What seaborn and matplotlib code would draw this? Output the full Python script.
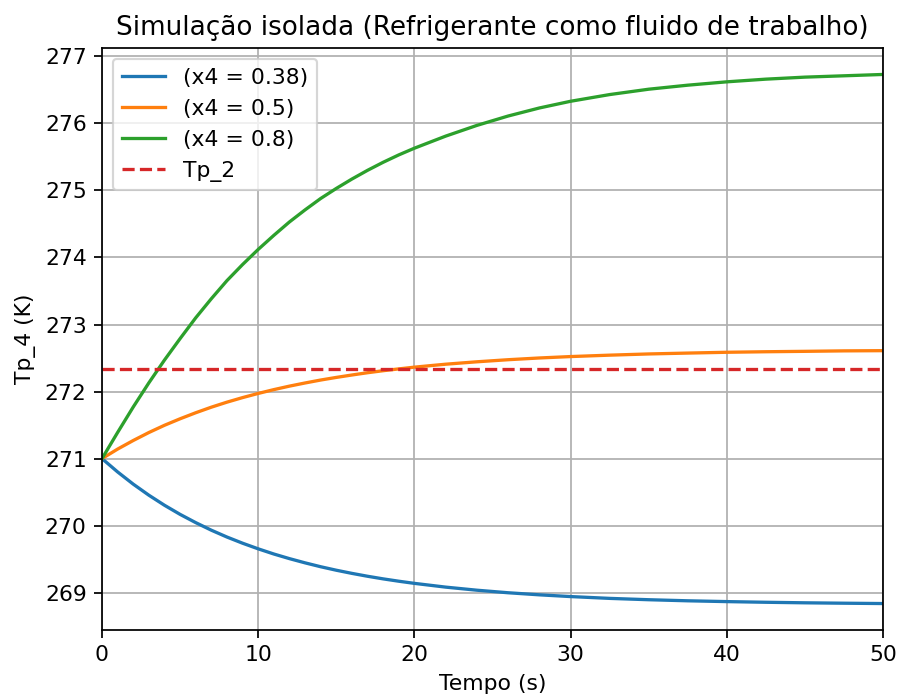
import pandas as pd
import matplotlib
matplotlib.use("Agg")
import matplotlib.pyplot as plt
import seaborn as sns

# Tempo (s)
tempo = [0, 1, 2, 3, 4, 5, 6, 7, 8, 9, 10, 11, 12, 13, 14, 15, 16, 17, 18, 19, 20,
         22, 24, 26, 28, 30, 32.5, 35, 37.5, 40, 42.5, 45, 47.5, 50]

# Tp_4 (K) para cada titulo x4
tp4_x038 = [271.000, 270.801, 270.619, 270.454, 270.304, 270.168, 270.045, 269.932,
            269.830, 269.738, 269.654, 269.577, 269.508, 269.445, 269.387, 269.335,
            269.288, 269.245, 269.206, 269.171, 269.139, 269.083, 269.037, 268.999,
            268.968, 268.942, 268.915, 268.895, 268.879, 268.867, 268.857, 268.849,
            268.843, 268.838]
tp4_x05 = [271.000, 271.142, 271.270, 271.389, 271.497, 271.594, 271.684, 271.767,
           271.842, 271.910, 271.972, 272.029, 272.081, 272.128, 272.172, 272.211,
           272.247, 272.281, 272.311, 272.338, 272.364, 272.408, 272.444, 272.475,
           272.501, 272.522, 272.543, 272.561, 272.574, 272.586, 272.594, 272.600,
           272.607, 272.610]
tp4_x08 = [271.000, 271.390, 271.770, 272.130, 272.470, 272.790, 273.100, 273.385,
           273.655, 273.895, 274.120, 274.330, 274.530, 274.710, 274.880, 275.030,
           275.170, 275.300, 275.420, 275.530, 275.630, 275.810, 275.970, 276.110,
           276.230, 276.330, 276.430, 276.510, 276.570, 276.620, 276.660, 276.690,
           276.710, 276.730]

series_labels = ["(x4 = 0.38)", "(x4 = 0.5)", "(x4 = 0.8)"]
series_colors = ["#1f77b4", "#ff7f0e", "#2ca02c"]

tp_2 = 272.34

plt.style.use("default")
plt.rcParams["font.family"] = ["DejaVu Sans"]

dpi = 157.5
fig = plt.figure(figsize=(898 / dpi, 698 / dpi), dpi=dpi)
ax = fig.add_axes([102 / 898, 1 - 630 / 698, (883 - 102) / 898, (630 - 48) / 698])

for vals, lab, col in zip([tp4_x038, tp4_x05, tp4_x08], series_labels, series_colors):
    df = pd.DataFrame({"Tempo": tempo, "Tp4": vals})
    sns.lineplot(data=df, x="Tempo", y="Tp4", ax=ax, color=col, label=lab, linewidth=1.5)

ax.axhline(tp_2, color="#d62728", linestyle="--", linewidth=1.5, label="Tp_2")

ax.set_xlim(0, 50)
ax.set_title("Simulação isolada (Refrigerante como fluido de trabalho)", fontsize=12)
ax.set_xlabel("Tempo (s)", fontsize=10)
ax.set_ylabel("Tp_4 (K)", fontsize=10)
ax.grid(True)
ax.legend(loc="upper left", fontsize=10)

fig.savefig("out.png", dpi=dpi)
